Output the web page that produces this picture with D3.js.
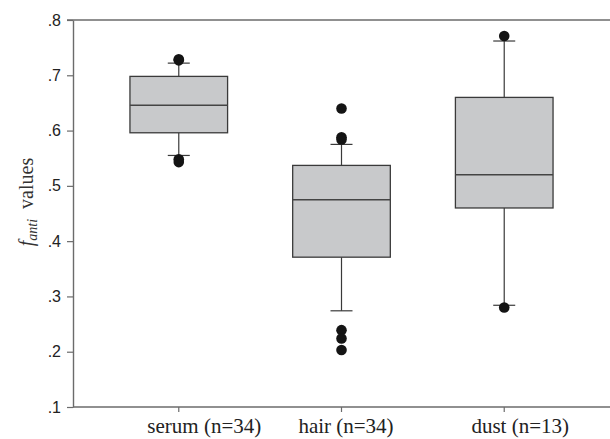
<!DOCTYPE html>
<html>
<head>
<meta charset="utf-8">
<script src="https://cdn.jsdelivr.net/npm/d3@7"></script>
<style>
  body { margin: 0; background: #fff; }
  svg { display: block; }
</style>
</head>
<body>
<script>
// categories and box statistics
var categories = ["serum (n=34)", "hair (n=34)", "dust (n=13)"];
var q1 = [0.596, 0.371, 0.460];
var medians = [0.646, 0.475, 0.520];
var q3 = [0.698, 0.537, 0.660];
var whiskerLow = [0.555, 0.274, 0.284];
var whiskerHigh = [0.722, 0.575, 0.762];
var outliers = [
  [0.729, 0.727, 0.548, 0.543],
  [0.640, 0.588, 0.584, 0.239, 0.224, 0.203],
  [0.771, 0.280]
];
var yTicks = [0.1, 0.2, 0.3, 0.4, 0.5, 0.6, 0.7, 0.8];

var svgWidth = 610;
var svgHeight = 439;

var margin = { top: 20, right: 0, bottom: 32, left: 73 };

var svg = d3.select("body")
  .append("svg")
  .attr("width", svgWidth)
  .attr("height", svgHeight);

// scales
var x = d3.scaleBand()
  .domain(categories)
  .range([margin.left, svgWidth - margin.right])
  .paddingInner(0)
  .paddingOuter(0.15);

var y = d3.scaleLinear()
  .domain([0.1, 0.8])
  .range([svgHeight - margin.bottom, margin.top]);

var boxW = x.bandwidth() * 0.6;
var capW = 22;

// label nudges so the text sits where it does in the original
var labelNudge = [25.5, 4.5, 16];

var axisColor = "#6b6b6b";
var boxStroke = "#3a3a3a";

// top frame line
svg.append("line")
  .attr("x1", margin.left - 6)
  .attr("x2", svgWidth)
  .attr("y1", y(0.8))
  .attr("y2", y(0.8))
  .attr("stroke", axisColor)
  .attr("stroke-width", 1.4);

// y axis
var fmt = function(d) { return d3.format(".1f")(d).replace(/^0/, ""); };
var yAxis = svg.append("g")
  .attr("transform", "translate(" + margin.left + ",0)")
  .call(d3.axisLeft(y).tickValues(yTicks).tickFormat(fmt).tickSize(6).tickSizeOuter(0).tickPadding(6));

yAxis.select(".domain").attr("stroke", axisColor).attr("stroke-width", 1.4);
yAxis.selectAll(".tick line").attr("stroke", axisColor).attr("stroke-width", 1.2);
yAxis.selectAll(".tick text")
  .attr("fill", "#222")
  .style("font-family", "'Liberation Sans', Arial, sans-serif")
  .style("font-size", "16px");

// x axis
var xAxis = svg.append("g")
  .attr("transform", "translate(0," + y(0.1) + ")")
  .call(d3.axisBottom(x).tickSize(5).tickSizeOuter(0).tickFormat(""));

xAxis.select(".domain")
  .attr("d", "M" + margin.left + ",0H" + svgWidth)
  .attr("stroke", axisColor).attr("stroke-width", 1.4);
xAxis.selectAll(".tick line").attr("stroke", axisColor).attr("stroke-width", 1.2);

// x labels
svg.selectAll(".xlabel")
  .data(categories)
  .enter()
  .append("text")
  .attr("class", "xlabel")
  .attr("x", function(d, i) { return x(d) + x.bandwidth() / 2 + labelNudge[i]; })
  .attr("y", 433)
  .attr("text-anchor", "middle")
  .attr("fill", "#222")
  .style("font-family", "'Liberation Serif', 'Times New Roman', serif")
  .style("font-size", "21px")
  .text(function(d) { return d; });

// y title
var title = svg.append("text")
  .attr("transform", "translate(33,202) rotate(-90)")
  .attr("text-anchor", "middle")
  .attr("fill", "#333")
  .style("font-family", "'Liberation Serif', 'Times New Roman', serif")
  .style("font-size", "20px");
title.append("tspan").style("font-style", "italic").text("f");
title.append("tspan").style("font-style", "italic").style("font-size", "14px").attr("dy", 4).text("anti");
title.append("tspan").attr("dy", -4).text("\u00a0 values");

// boxes
var groups = svg.selectAll(".box")
  .data(categories)
  .enter()
  .append("g")
  .attr("class", "box");

var cx = function(d) { return x(d) + x.bandwidth() / 2; };

// whiskers
groups.append("line")
  .attr("x1", cx).attr("x2", cx)
  .attr("y1", function(d, i) { return y(whiskerHigh[i]); })
  .attr("y2", function(d, i) { return y(q3[i]); })
  .attr("stroke", boxStroke).attr("stroke-width", 1.2);
groups.append("line")
  .attr("x1", cx).attr("x2", cx)
  .attr("y1", function(d, i) { return y(q1[i]); })
  .attr("y2", function(d, i) { return y(whiskerLow[i]); })
  .attr("stroke", boxStroke).attr("stroke-width", 1.2);

// caps
[whiskerHigh, whiskerLow].forEach(function(arr) {
  groups.append("line")
    .attr("x1", function(d) { return cx(d) - capW / 2; })
    .attr("x2", function(d) { return cx(d) + capW / 2; })
    .attr("y1", function(d, i) { return y(arr[i]); })
    .attr("y2", function(d, i) { return y(arr[i]); })
    .attr("stroke", boxStroke).attr("stroke-width", 1.2);
});

// box
groups.append("rect")
  .attr("x", function(d) { return cx(d) - boxW / 2; })
  .attr("y", function(d, i) { return y(q3[i]); })
  .attr("width", boxW)
  .attr("height", function(d, i) { return y(q1[i]) - y(q3[i]); })
  .attr("fill", "#c8c9cb")
  .attr("stroke", boxStroke)
  .attr("stroke-width", 1.3);

// median
groups.append("line")
  .attr("x1", function(d) { return cx(d) - boxW / 2; })
  .attr("x2", function(d) { return cx(d) + boxW / 2; })
  .attr("y1", function(d, i) { return y(medians[i]); })
  .attr("y2", function(d, i) { return y(medians[i]); })
  .attr("stroke", "#444").attr("stroke-width", 1.5);

// outliers
groups.each(function(d, i) {
  d3.select(this).selectAll("circle")
    .data(outliers[i])
    .enter()
    .append("circle")
    .attr("cx", cx(d))
    .attr("cy", function(v) { return y(v); })
    .attr("r", 5.3)
    .attr("fill", "#141414");
});
</script>
</body>
</html>
